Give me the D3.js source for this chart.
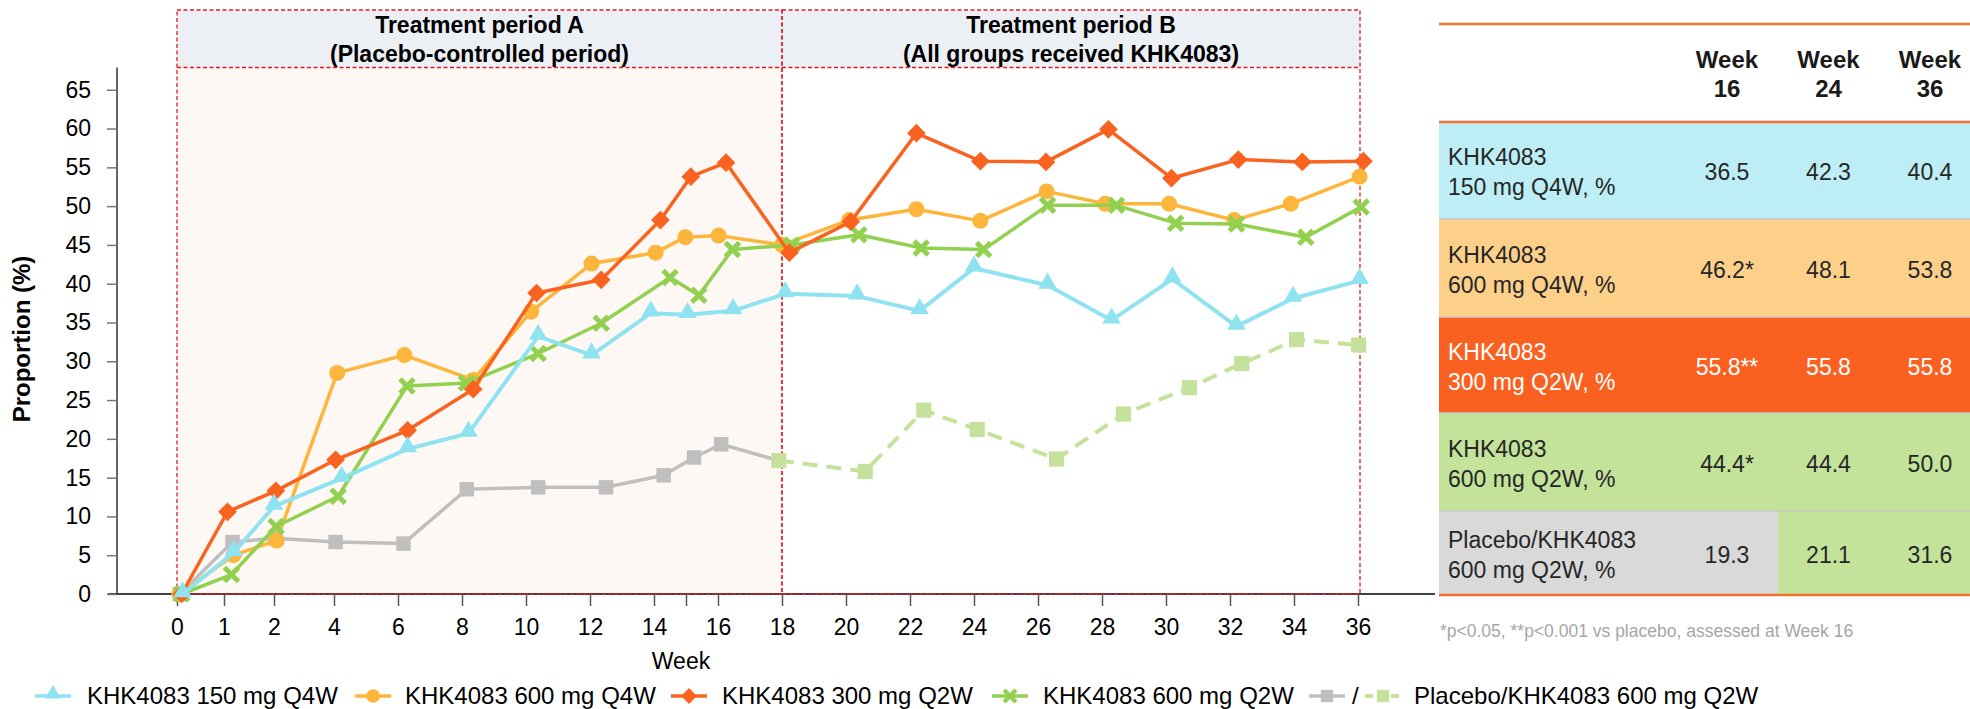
<!DOCTYPE html>
<html>
<head>
<meta charset="utf-8">
<script src="https://cdn.jsdelivr.net/npm/d3@7"></script>
<style>
body { margin: 0; background: #fff; }
svg { display: block; font-family: "Liberation Sans", Arial, sans-serif; }
</style>
</head>
<body>
<div id="chart"></div>
<script>
const width = 1970;
const height = 709;

// axis ticks
const weekTicks = [0, 1, 2, 4, 6, 8, 10, 12, 14, 16, 18, 20, 22, 24, 26, 28, 30, 32, 34, 36];
const minorWeekTicks = [15];
const yTicks = [0, 5, 10, 15, 20, 25, 30, 35, 40, 45, 50, 55, 60, 65];

// series: week position of each visit and proportion (%)
const weeks150q4w = [0.12, 1.19, 2.0, 4.24, 6.3, 8.2, 10.38, 12.05, 13.9, 15.05, 16.47, 18.1, 20.35, 22.3, 24.0, 26.3, 28.3, 30.2, 32.2, 33.97, 36.05];
const vals150q4w  = [0, 5.3, 11.3, 14.9, 18.7, 20.7, 33.2, 30.8, 36.2, 36.0, 36.5, 38.7, 38.4, 36.5, 42.0, 39.8, 35.3, 40.6, 34.5, 38.1, 40.4];

const weeks600q4w = [0.05, 1.19, 2.09, 4.1, 6.2, 8.35, 10.16, 12.05, 14.05, 14.98, 16.02, 18.0, 20.1, 22.2, 24.2, 26.27, 28.1, 30.1, 32.13, 33.9, 36.05];
const vals600q4w  = [0, 5.0, 6.9, 28.5, 30.8, 27.6, 36.4, 42.6, 44.0, 46.0, 46.2, 45.0, 48.2, 49.6, 48.1, 51.9, 50.3, 50.3, 48.2, 50.3, 53.8];

const weeks300q2w = [0.1, 1.07, 2.06, 4.05, 6.3, 8.35, 10.33, 12.35, 14.2, 15.15, 16.25, 18.23, 20.15, 22.2, 24.2, 26.25, 28.2, 30.17, 32.26, 34.26, 36.17];
const vals300q2w  = [0, 10.6, 13.3, 17.3, 21.1, 26.4, 38.8, 40.5, 48.2, 53.8, 55.6, 44.0, 48.0, 59.4, 55.8, 55.7, 59.9, 53.6, 56.0, 55.7, 55.8];

const weeks600q2w = [0.1, 1.15, 2.07, 4.13, 6.28, 8.14, 10.38, 12.35, 14.5, 15.4, 16.45, 18.3, 20.4, 22.35, 24.3, 26.3, 28.45, 30.3, 32.2, 34.37, 36.1];
const vals600q2w  = [0, 2.5, 8.7, 12.6, 26.8, 27.2, 31.0, 34.9, 40.8, 38.5, 44.4, 45.0, 46.3, 44.6, 44.4, 50.1, 50.1, 47.8, 47.7, 46.0, 49.9];

const weeksPlacebo = [0.06, 1.17, 2.05, 4.05, 6.17, 8.15, 10.38, 12.5, 14.3, 15.25, 16.1];
const valsPlacebo  = [0, 6.7, 7.2, 6.7, 6.5, 13.5, 13.75, 13.75, 15.3, 17.6, 19.3];

const weeksSwitch = [17.9, 20.6, 22.43, 24.1, 26.58, 28.67, 30.73, 32.37, 34.08, 36.02];
const valsSwitch  = [17.2, 15.8, 23.7, 21.2, 17.4, 23.2, 26.6, 29.7, 32.8, 32.1];

// table
const tableWeeks = ["16", "24", "36"];
const tableRowLabels = [
  ["KHK4083", "150 mg Q4W, %"],
  ["KHK4083", "600 mg Q4W, %"],
  ["KHK4083", "300 mg Q2W, %"],
  ["KHK4083", "600 mg Q2W, %"],
  ["Placebo/KHK4083", "600 mg Q2W, %"]
];
const week16Vals = ["36.5", "46.2*", "55.8**", "44.4*", "19.3"];
const week24Vals = ["42.3", "48.1", "55.8", "44.4", "21.1"];
const week36Vals = ["40.4", "53.8", "55.8", "50.0", "31.6"];
const footnote = "*p<0.05, **p<0.001 vs placebo, assessed at Week 16";

const periods = [
  {from: 0, to: 18, lines: ["Treatment period A", "(Placebo-controlled period)"], fill: "#fdf8f4"},
  {from: 18, to: 36, lines: ["Treatment period B", "(All groups received KHK4083)"], fill: "none"}
];

const cCyan = "#8fe3f0", cOrange = "#fdb53b", cRed = "#fa6220", cGreen = "#92d050",
      cGray = "#bfbfbf", cLight = "#c4e29c";

const zip = (ws, vs) => ws.map((w, i) => ({w: w, v: vs[i]}));

const series = [
  {name: "placebo", pts: zip(weeksPlacebo, valsPlacebo), lineExtra: zip(weeksSwitch, valsSwitch).slice(0, 1), color: cGray, marker: "square", lw: 3.5},
  {name: "switch", pts: zip(weeksSwitch, valsSwitch), color: cLight, marker: "square2", lw: 4, dash: "15,9"},
  {name: "600q4w", pts: zip(weeks600q4w, vals600q4w), color: cOrange, marker: "circle", lw: 3.5},
  {name: "600q2w", pts: zip(weeks600q2w, vals600q2w), color: cGreen, marker: "x", lw: 3.5},
  {name: "300q2w", pts: zip(weeks300q2w, vals300q2w), color: cRed, marker: "diamond", lw: 3.5},
  {name: "150q4w", pts: zip(weeks150q4w, vals150q4w), color: cCyan, marker: "triangle", lw: 4}
];

const svg = d3.select("#chart").append("svg")
    .attr("width", width)
    .attr("height", height);

const x = d3.scaleLinear().domain([0, 1, 2, 4, 36]).range([177, 224, 274, 334, 1358]);
const y = d3.scaleLinear().domain([0, 68]).range([594, 66.5]);
const headTop = 10, headBottom = 67.5;

// period backgrounds
periods.forEach(function(p) {
    const x0 = x(p.from), x1 = p.to === 36 ? x(p.to) + 2 : x(p.to);
    svg.append("rect").attr("x", x0).attr("y", headTop).attr("width", x1 - x0)
        .attr("height", headBottom - headTop).attr("fill", "#eceff4");
    if (p.fill !== "none") {
        svg.append("rect").attr("x", x0).attr("y", headBottom).attr("width", x1 - x0)
            .attr("height", y(0) - headBottom).attr("fill", p.fill);
    }
    p.lines.forEach(function(t, i) {
        svg.append("text").attr("x", (x0 + x1) / 2).attr("y", 33 + i * 29)
            .attr("text-anchor", "middle").attr("font-weight", "bold")
            .attr("font-size", 23).attr("fill", "#000").text(t);
    });
});

// axes
svg.append("line").attr("x1", 108).attr("x2", 1435).attr("y1", y(0)).attr("y2", y(0))
    .attr("stroke", "#000").attr("stroke-width", 1.5);
svg.append("line").attr("x1", 117).attr("x2", 117).attr("y1", headBottom).attr("y2", y(0))
    .attr("stroke", "#333").attr("stroke-width", 1.5);

const xAxis = svg.append("g")
    .attr("transform", "translate(0," + y(0) + ")")
    .call(d3.axisBottom(x).tickValues(weekTicks.concat(minorWeekTicks))
        .tickFormat(function(d) { return d === 15 ? "" : d; })
        .tickSize(12).tickPadding(13));
xAxis.select(".domain").remove();
xAxis.selectAll(".tick line").attr("stroke", "#555").attr("stroke-width", 1.5);
xAxis.selectAll("text").attr("font-size", 23).attr("fill", "#000")
    .attr("font-family", "Liberation Sans, Arial, sans-serif");

const yAxis = svg.append("g")
    .attr("transform", "translate(117,0)")
    .call(d3.axisLeft(y).tickValues(yTicks).tickSize(10).tickPadding(16));
yAxis.select(".domain").remove();
yAxis.selectAll(".tick line").attr("stroke", "#777").attr("stroke-width", 1.5);
yAxis.selectAll("text").attr("font-size", 23).attr("fill", "#000")
    .attr("font-family", "Liberation Sans, Arial, sans-serif");

svg.append("text").attr("x", 681).attr("y", 669).attr("text-anchor", "middle")
    .attr("font-size", 23).text("Week");

svg.append("text")
    .attr("transform", "translate(30,339) rotate(-90)")
    .attr("text-anchor", "middle").attr("font-weight", "bold").attr("font-size", 24)
    .text("Proportion (%)");

// dashed period frames
periods.forEach(function(p) {
    const x0 = x(p.from), x1 = p.to === 36 ? x(p.to) + 2 : x(p.to);
    svg.append("rect").attr("x", x0).attr("y", headTop).attr("width", x1 - x0)
        .attr("height", y(0) - headTop).attr("fill", "none")
        .attr("stroke", "#dc1f26").attr("stroke-width", 1.3).attr("stroke-dasharray", "4,2.5");
    svg.append("line").attr("x1", x0).attr("x2", x1).attr("y1", headBottom).attr("y2", headBottom)
        .attr("stroke", "#dc1f26").attr("stroke-width", 1.3).attr("stroke-dasharray", "4,2.5");
});

function drawMarker(g, type, color, scale) {
    const k = scale || 1;
    if (type === "circle") {
        g.append("circle").attr("r", 8 * k).attr("fill", color);
    } else if (type === "triangle") {
        g.append("path").attr("d", d3.symbol(d3.symbolTriangle, 150 * k * k)()).attr("fill", color)
            .attr("transform", "translate(0,-2)");
    } else if (type === "diamond") {
        g.append("path").attr("d", d3.symbol(d3.symbolSquare, 175 * k * k)()).attr("fill", color)
            .attr("transform", "rotate(45)");
    } else if (type === "square") {
        g.append("path").attr("d", d3.symbol(d3.symbolSquare, 210 * k * k)()).attr("fill", color);
    } else if (type === "square2") {
        g.append("path").attr("d", d3.symbol(d3.symbolSquare, 230 * k * k)()).attr("fill", color);
    } else if (type === "x") {
        const s = 7 * k;
        g.append("path").attr("d", "M" + -s + "," + -s + "L" + s + "," + s + "M" + -s + "," + s + "L" + s + "," + -s)
            .attr("stroke", color).attr("stroke-width", 5 * k).attr("fill", "none");
    }
}

const line = d3.line()
    .x(function(d) { return x(d.w); })
    .y(function(d) { return y(d.v); });

series.forEach(function(s) {
    const g = svg.append("g").attr("class", "series-" + s.name);
    g.append("path")
        .attr("d", line(s.lineExtra ? s.pts.concat(s.lineExtra) : s.pts))
        .attr("fill", "none").attr("stroke", s.color).attr("stroke-width", s.lw)
        .attr("stroke-linejoin", "round")
        .attr("stroke-dasharray", s.dash || null);
    g.selectAll("g.pt").data(s.pts).enter().append("g").attr("class", "pt")
        .attr("transform", function(d) { return "translate(" + x(d.w) + "," + y(d.v) + ")"; })
        .each(function() { drawMarker(d3.select(this), s.marker, s.color); });
});

// legend
const legendY = 696;
const legendItems = [
  {label: "KHK4083 150 mg Q4W", color: cCyan, marker: "triangle", x0: 35, tx: 87},
  {label: "KHK4083 600 mg Q4W", color: cOrange, marker: "circle", x0: 355, tx: 405},
  {label: "KHK4083 300 mg Q2W", color: cRed, marker: "diamond", x0: 671, tx: 722},
  {label: "KHK4083 600 mg Q2W", color: cGreen, marker: "x", x0: 992, tx: 1043}
];
legendItems.forEach(function(it) {
    svg.append("line").attr("x1", it.x0).attr("x2", it.x0 + 36).attr("y1", legendY).attr("y2", legendY)
        .attr("stroke", it.color).attr("stroke-width", 3.5);
    drawMarker(svg.append("g").attr("transform", "translate(" + (it.x0 + 18) + "," + legendY + ")"), it.marker, it.color, 0.85);
    svg.append("text").attr("x", it.tx).attr("y", legendY + 8).attr("font-size", 24).text(it.label);
});
svg.append("line").attr("x1", 1309).attr("x2", 1345).attr("y1", legendY).attr("y2", legendY)
    .attr("stroke", cGray).attr("stroke-width", 3.5);
drawMarker(svg.append("g").attr("transform", "translate(1327," + legendY + ")"), "square", cGray, 0.85);
svg.append("text").attr("x", 1352).attr("y", legendY + 8).attr("font-size", 24).text("/");
svg.append("line").attr("x1", 1365).attr("x2", 1401).attr("y1", legendY).attr("y2", legendY)
    .attr("stroke", cLight).attr("stroke-width", 4).attr("stroke-dasharray", "8,5");
drawMarker(svg.append("g").attr("transform", "translate(1383," + legendY + ")"), "square", cLight, 0.85);
svg.append("text").attr("x", 1414).attr("y", legendY + 8).attr("font-size", 24).text("Placebo/KHK4083 600 mg Q2W");

// table
const tLeft = 1439, tRight = 1970;
const rowTops = [122, 219, 317, 413, 511, 595];
const rowFills = ["#bdeef5", "#fdd08a", "#fa6120", "#c3e39b", "#d9d9d9"];
const rowText = ["#262626", "#262626", "#fff", "#262626", "#262626"];
const col = d3.scalePoint().domain(tableWeeks).range([1727, 1930]);
const colVals = [week16Vals, week24Vals, week36Vals];

tableRowLabels.forEach(function(lbl, i) {
    const top = rowTops[i], bot = rowTops[i + 1], mid = (top + bot) / 2;
    svg.append("rect").attr("x", tLeft).attr("y", top).attr("width", tRight - tLeft)
        .attr("height", bot - top).attr("fill", rowFills[i]);
    if (i === 4) {
        // weeks 24 and 36 are after the switch to KHK4083
        svg.append("rect").attr("x", 1778).attr("y", top).attr("width", tRight - 1778)
            .attr("height", bot - top).attr("fill", rowFills[3]);
    }
    lbl.forEach(function(t, j) {
        svg.append("text").attr("x", 1448).attr("y", mid - 5.5 + j * 30)
            .attr("font-size", 23).attr("fill", rowText[i]).text(t);
    });
    tableWeeks.forEach(function(wk, c) {
        svg.append("text").attr("x", col(wk)).attr("y", mid + 9.5)
            .attr("text-anchor", "middle").attr("font-size", 23).attr("fill", rowText[i])
            .text(colVals[c][i]);
    });
    if (i > 0) {
        svg.append("line").attr("x1", tLeft).attr("x2", tRight).attr("y1", top).attr("y2", top)
            .attr("stroke", "#c8c8c8").attr("stroke-width", 1.5);
    }
});

tableWeeks.forEach(function(wk) {
    svg.append("text").attr("x", col(wk)).attr("y", 68).attr("text-anchor", "middle")
        .attr("font-weight", "bold").attr("font-size", 24).attr("fill", "#1a1a1a").text("Week");
    svg.append("text").attr("x", col(wk)).attr("y", 97).attr("text-anchor", "middle")
        .attr("font-weight", "bold").attr("font-size", 24).attr("fill", "#1a1a1a").text(wk);
});

[24, 122, 595].forEach(function(yy) {
    svg.append("line").attr("x1", tLeft).attr("x2", tRight).attr("y1", yy).attr("y2", yy)
        .attr("stroke", "#f7702e").attr("stroke-width", 2.5);
});

svg.append("text").attr("x", 1440).attr("y", 637).attr("font-size", 17.5)
    .attr("fill", "#a6a6a6").text(footnote);
</script>
</body>
</html>
